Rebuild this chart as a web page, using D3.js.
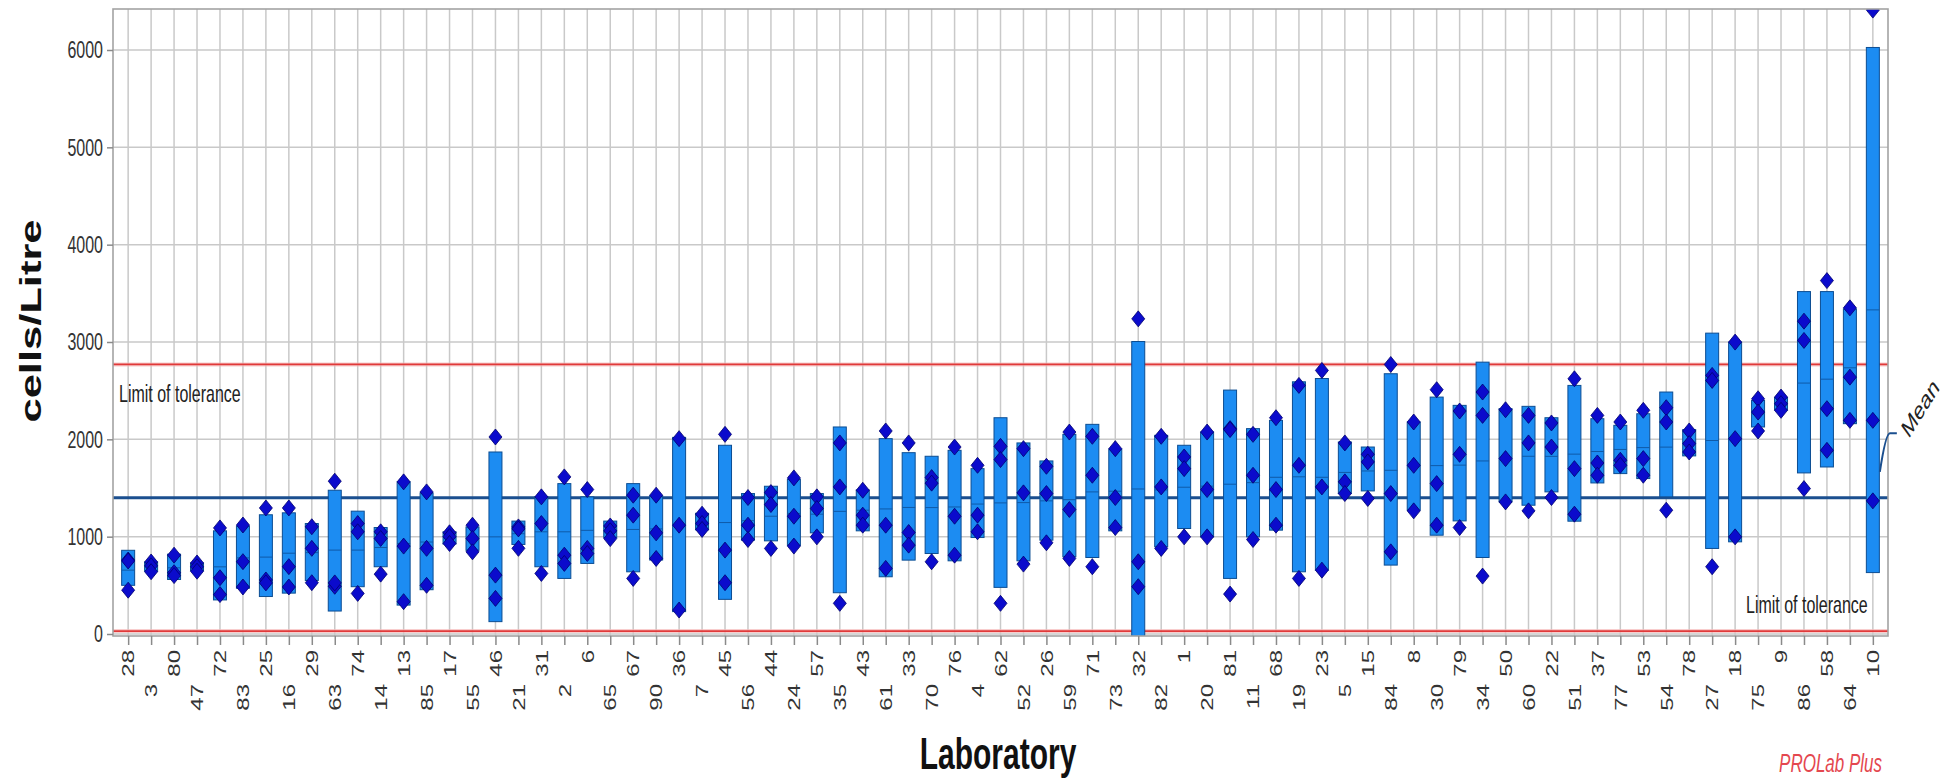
<!DOCTYPE html>
<html>
<head>
<meta charset="utf-8">
<title>Laboratory results – cells/Litre</title>
<script src="https://cdn.jsdelivr.net/npm/d3@7"></script>
<style>
  html, body { margin: 0; padding: 0; background: #ffffff; }
  svg { display: block; font-family: "Liberation Sans", Arial, sans-serif; }
</style>
</head>
<body>
<svg id="chart" width="1959" height="781"></svg>
<script>
// Laboratories, ordered by their mean result
const labs = ["28","3","80","47","72","83","25","16","29","63","74","14","13","85","17","55","46","21","31","2","6","65","67","90","36","7","45","56","44","24","57","35","43","61","33","70","76","4","62","52","26","59","71","73","32","82","1","20","81","11","68","19","23","5","15","84","8","30","79","34","50","60","22","51","37","77","53","54","78","27","18","75","9","86","58","64","10"];

// Box = mean ± standard deviation of each laboratory's replicates
const boxLow  = [500,645,560,650,350,470,385,420,550,236,486,691,297,455,925,860,127,920,691,571,725,990,639,760,230,1070,356,964,957,910,1039,424,1060,588,759,827,752,991,479,752,964,793,786,1060,-30,896,1084,998,571,998,1067,639,656,1443,1470,708,1272,1015,1162,786,1357,1323,1460,1159,1552,1648,1597,1409,1830,879,947,2127,2300,1655,1716,2161,631];
const boxHigh = [860,740,820,730,1060,1110,1225,1245,1135,1477,1262,1094,1563,1450,1050,1100,1870,1160,1409,1545,1409,1160,1545,1420,2020,1240,1939,1443,1518,1590,1443,2127,1480,2007,1863,1826,1887,1699,2222,1963,1778,2051,2154,1900,3005,2041,1939,2075,2506,2110,2195,2591,2625,1973,1921,2674,2178,2434,2349,2793,2315,2339,2222,2554,2212,2144,2263,2486,2100,3091,2999,2400,2430,3518,3518,3340,6026];
const labMean = [656,693,680,690,690,782,790,830,836,862,862,889,930,945,990,980,998,1030,1050,1050,1065,1050,1074,1080,1124,1147,1145,1164,1210,1239,1231,1260,1272,1285,1300,1299,1305,1335,1347,1350,1368,1380,1460,1467,1490,1480,1508,1519,1539,1555,1610,1615,1610,1660,1675,1682,1725,1730,1735,1778,1815,1826,1825,1848,1875,1896,1915,1920,1970,1988,2001,2261,2366,2578,2618,2735,3330];

// Individual replicate results
const rep1 = [760,740,810,730,1090,1120,1295,1295,1102,1570,1135,1050,1563,1460,1040,1118,2024,1100,1409,1614,1484,1110,1426,1426,2007,1231,2051,1402,1453,1604,1409,1963,1477,2086,1963,1607,1921,1733,1928,1904,1723,2075,2031,1904,3238,2031,1819,2075,2110,2051,2222,2554,2708,1963,1846,2769,2178,2510,2291,2486,2304,2246,2168,2622,2246,2178,2298,2325,2086,2657,2999,2417,2434,3214,3631,3351,6410];
const rep2 = [750,700,630,690,578,743,555,692,880,490,1050,981,903,880,1000,981,605,1080,1135,810,879,1060,1221,1039,1118,1135,862,1118,1330,1210,1289,1511,1221,1118,1043,1550,1210,1221,1792,1450,1443,1279,1631,1402,742,1511,1699,1484,2100,1631,1484,1733,1511,1563,1768,1443,1733,1545,1846,2246,1802,1963,1921,1699,1757,1785,1802,2178,1956,2605,2007,2280,2366,3016,2315,2639,2195];
const rep3 = [450,640,600,645,405,483,525,483,527,525,417,615,332,500,930,844,366,880,622,725,827,980,571,776,246,1074,527,971,879,903,998,315,1118,674,913,742,810,1050,315,718,937,776,691,1094,486,879,998,998,410,971,1118,571,656,1443,1392,844,1265,1118,1094,595,1357,1265,1402,1231,1631,1733,1631,1272,1870,691,998,2086,2298,1494,1887,2195,1368];

// Reference lines
const assignedMean = 1400;
const upperLimit = 2770;
const lowerLimit = 30;

const yTicks = [0, 1000, 2000, 3000, 4000, 5000, 6000];

// ---------------------------------------------------------------------------
const svg = d3.select("#chart");
const plot = { left: 113, right: 1888, top: 9, bottom: 636 };
const textStretch = 1.5;   // the whole figure is drawn tall; text follows suit

const x = d3.scalePoint().domain(labs).range([plot.left, plot.right]).padding(0.66);
const y = d3.scaleLinear().domain([0, 6000]).range([634, 50]);

svg.append("defs").append("clipPath").attr("id", "plotClip")
  .append("rect")
  .attr("x", plot.left).attr("y", plot.top)
  .attr("width", plot.right - plot.left).attr("height", plot.bottom - plot.top);

// Grid
const grid = svg.append("g");
grid.selectAll("line.v").data(labs).join("line")
  .attr("x1", d => x(d)).attr("x2", d => x(d))
  .attr("y1", plot.top).attr("y2", plot.bottom)
  .attr("stroke", "#c9c9c9").attr("stroke-width", 1.5);
grid.selectAll("line.h").data(yTicks).join("line")
  .attr("x1", plot.left).attr("x2", plot.right)
  .attr("y1", d => y(d)).attr("y2", d => y(d))
  .attr("stroke", "#c9c9c9").attr("stroke-width", 1.5);

// Tolerance limits and assigned mean
const refs = svg.append("g");
[upperLimit, lowerLimit].forEach(v => {
  refs.append("line")
    .attr("x1", plot.left).attr("x2", plot.right).attr("y1", y(v)).attr("y2", y(v))
    .attr("stroke", "#f6b8b8").attr("stroke-width", 4).attr("opacity", 0.7);
  refs.append("line")
    .attr("x1", plot.left).attr("x2", plot.right).attr("y1", y(v)).attr("y2", y(v))
    .attr("stroke", "#e03a3a").attr("stroke-width", 1.6);
});
refs.append("line")
  .attr("x1", plot.left).attr("x2", plot.right)
  .attr("y1", y(assignedMean)).attr("y2", y(assignedMean))
  .attr("stroke", "#1b4f8f").attr("stroke-width", 3);

// Boxes (mean ± SD) with mean tick, then replicate diamonds
const marks = svg.append("g").attr("clip-path", "url(#plotClip)");
const barW = 13;
const rows = labs.map((lab, i) => ({ lab, lo: boxLow[i], hi: boxHigh[i], mean: labMean[i], reps: [rep1[i], rep2[i], rep3[i]] }));

marks.selectAll("rect.box").data(rows).join("rect")
  .attr("x", d => x(d.lab) - barW / 2)
  .attr("y", d => y(d.hi))
  .attr("width", barW)
  .attr("height", d => y(d.lo) - y(d.hi))
  .attr("fill", "#1c8cf2")
  .attr("stroke", "#0c4d92").attr("stroke-width", 1);

marks.selectAll("line.mean").data(rows).join("line")
  .attr("x1", d => x(d.lab) - barW / 2).attr("x2", d => x(d.lab) + barW / 2)
  .attr("y1", d => y(d.mean)).attr("y2", d => y(d.mean))
  .attr("stroke", "#0f5aa8").attr("stroke-width", 1);

const diamond = "M0,-8L6.5,0L0,8L-6.5,0Z";
const pts = rows.flatMap(d => d.reps.map(v => ({ lab: d.lab, v })));
marks.selectAll("path.rep").data(pts).join("path")
  .attr("d", diamond)
  .attr("transform", d => `translate(${x(d.lab)},${y(d.v)})`)
  .attr("fill", "#0b0bcc")
  .attr("stroke", "#00006e").attr("stroke-width", 0.8);

// Plot frame
svg.append("rect")
  .attr("x", plot.left).attr("y", plot.top)
  .attr("width", plot.right - plot.left).attr("height", plot.bottom - plot.top)
  .attr("fill", "none").attr("stroke", "#a3a3a3").attr("stroke-width", 1.6);

// Y axis
const yAxis = svg.append("g")
  .attr("transform", `translate(${plot.left},0)`)
  .call(d3.axisLeft(y).tickValues(yTicks).tickSize(6).tickPadding(4).tickFormat(d3.format("d")));
yAxis.select(".domain").remove();
yAxis.selectAll(".tick line").attr("stroke", "#8a8a8a").attr("stroke-width", 1.5);
yAxis.selectAll(".tick text")
  .attr("fill", "#333").attr("font-size", 16)
  .attr("font-family", "Liberation Sans, Arial, sans-serif")
  .attr("transform", `scale(1,${textStretch})`);

// X axis: labels rotated, alternating between two rows
const xAxis = svg.append("g")
  .attr("transform", `translate(0,${plot.bottom})`)
  .call(d3.axisBottom(x).tickSize(9));
xAxis.select(".domain").remove();
xAxis.selectAll(".tick line").attr("stroke", "#8a8a8a").attr("stroke-width", 1.5);
xAxis.selectAll(".tick text")
  .attr("fill", "#333").attr("font-size", 16)
  .attr("font-family", "Liberation Sans, Arial, sans-serif")
  .attr("x", 0).attr("y", 0).attr("dy", "0.36em")
  .attr("text-anchor", "end")
  .attr("transform", (d, i) => `translate(0,${i % 2 === 0 ? 14 : 48}) scale(1,${textStretch}) rotate(-90)`);

// Axis titles
svg.append("text")
  .attr("transform", `translate(41,321) scale(1,${textStretch}) rotate(-90)`)
  .attr("text-anchor", "middle")
  .attr("font-size", 29).attr("font-weight", "bold").attr("fill", "#111")
  .text("cells/Litre");

svg.append("text")
  .attr("transform", `translate(998,769) scale(1,${textStretch})`)
  .attr("text-anchor", "middle")
  .attr("font-size", 30).attr("font-weight", "bold").attr("fill", "#111")
  .text("Laboratory");

// Limit labels
svg.append("text")
  .attr("transform", `translate(${plot.left + 6},${y(upperLimit) + 38}) scale(1,${textStretch})`)
  .attr("font-size", 16).attr("fill", "#222")
  .text("Limit of tolerance");
svg.append("text")
  .attr("transform", `translate(${plot.right - 142},${y(lowerLimit) - 18}) scale(1,${textStretch})`)
  .attr("font-size", 16).attr("fill", "#222")
  .text("Limit of tolerance");

// "Mean" callout beside the last laboratory
const xl = x(labs[labs.length - 1]);
const leader = d3.path();
leader.moveTo(xl + 7, y(1665));
leader.bezierCurveTo(xl + 9, y(1800), xl + 13, y(2060), xl + 17, y(2062));
leader.lineTo(xl + 24, y(2062));
svg.append("path").attr("d", leader.toString())
  .attr("fill", "none").attr("stroke", "#1b4f8f").attr("stroke-width", 2);
svg.append("text")
  .attr("transform", `translate(${xl + 36},${y(2000)}) scale(1,${textStretch}) rotate(-47)`)
  .attr("font-size", 17).attr("fill", "#222")
  .attr("textLength", 46).attr("lengthAdjust", "spacingAndGlyphs")
  .text("Mean");

// Software credit
svg.append("text")
  .attr("transform", `translate(1882,772) scale(1,${textStretch})`)
  .attr("text-anchor", "end")
  .attr("font-size", 17).attr("font-style", "italic").attr("fill", "#e4474f")
  .text("PROLab Plus");
</script>
</body>
</html>
